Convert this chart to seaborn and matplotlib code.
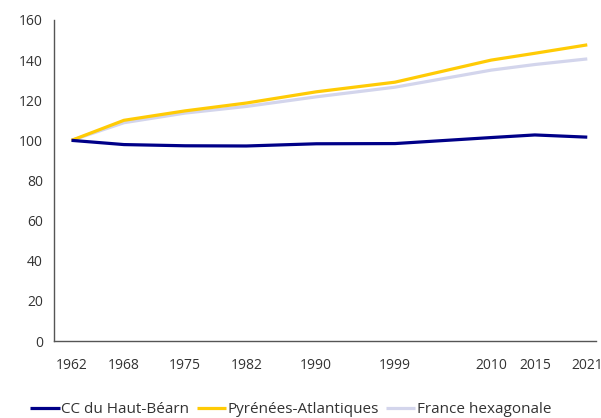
import matplotlib
matplotlib.use("Agg")
import matplotlib.pyplot as plt
import seaborn as sns
import pandas as pd

# ------------------------------
# Data (index base 100 in 1962)
# ------------------------------
years = [1962, 1968, 1975, 1982, 1990, 1999, 2010, 2015, 2021]
haut_bearn = [100, 97.9, 97.3, 97.2, 98.3, 98.4, 101.4, 102.7, 101.6]
pyrenees_atl = [100, 110.0, 114.7, 118.6, 124.2, 129.0, 140.0, 143.4, 147.6]
france_hex = [100, 108.8, 113.6, 116.9, 121.7, 126.5, 135.0, 137.8, 140.6]

series_names = ["CC du Haut-Béarn", "Pyrénées-Atlantiques", "France hexagonale"]
colors = ["#000088", "#FFCB05", "#D3D5EC"]

df = pd.DataFrame({
    "annee": years * 3,
    "indice": haut_bearn + pyrenees_atl + france_hex,
    "territoire": [series_names[0]] * len(years)
                  + [series_names[1]] * len(years)
                  + [series_names[2]] * len(years),
})

# ------------------------------
# Plot
# ------------------------------
sns.set_style("white")
plt.rcParams["font.family"] = ["Open Sans", "DejaVu Sans"]

fig = plt.figure(figsize=(6.01, 4.18), dpi=100)
ax = fig.add_axes([0.0899, 0.1842, 0.9018, 0.768])

# draw France first so the yellow line sits on top
order = [2, 1, 0]
for i in order:
    sub = df[df["territoire"] == series_names[i]]
    sns.lineplot(data=sub, x="annee", y="indice", color=colors[i],
                 linewidth=2.3, ax=ax, label=series_names[i], legend=False,
                 solid_capstyle="butt")

ax.set_xlim(1960, 2022)
ax.set_ylim(0, 160)
ax.set_xticks(years)
ax.set_yticks(range(0, 161, 20))
ax.set_xlabel("")
ax.set_ylabel("")

for side in ["top", "right"]:
    ax.spines[side].set_visible(False)
for side in ["left", "bottom"]:
    ax.spines[side].set_color("#555555")
    ax.spines[side].set_linewidth(1.0)

ax.tick_params(axis="y", direction="out", length=4, width=1, color="#555555",
               labelsize=10, labelcolor="#333333", pad=4)
ax.tick_params(axis="x", direction="inout", length=6, width=1, color="#555555",
               labelsize=10, labelcolor="#333333", pad=9)

handles, labels = ax.get_legend_handles_labels()
hmap = dict(zip(labels, handles))
fig.legend([hmap[n] for n in series_names], series_names,
           loc="center", bbox_to_anchor=(0.484, 0.02), ncol=3, frameon=False,
           fontsize=11, handlelength=1.9, handletextpad=0.1,
           columnspacing=0.5, labelcolor="#333333")

plt.savefig("out.png", dpi=100)
